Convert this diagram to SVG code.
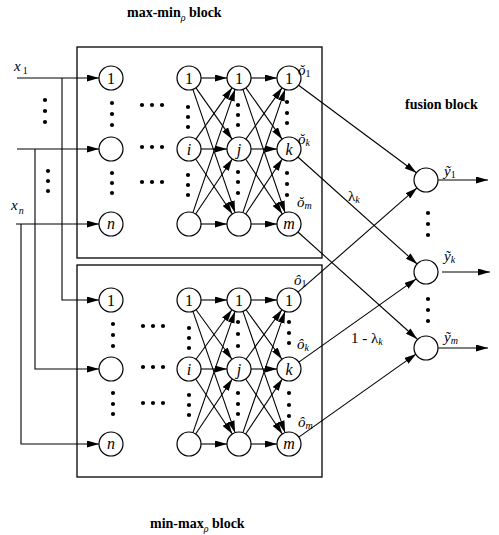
<svg xmlns="http://www.w3.org/2000/svg" width="499" height="535" viewBox="0 0 499 535">
<defs>
<marker id="ah" markerUnits="userSpaceOnUse" markerWidth="12" markerHeight="7" refX="12" refY="3.5" orient="auto">
<path d="M0,0 L12,3.5 L0,7 z" fill="#000"/>
</marker>
<style>
.box{fill:none;stroke:#000;stroke-width:1.3}
.nd circle{fill:#fff;stroke:#000;stroke-width:1.2}
.nd text{font-family:"Liberation Serif",serif;font-size:16px;text-anchor:middle}
.it{font-style:italic}
.cn line,.cn path{stroke:#000;stroke-width:1.1;fill:none;marker-end:url(#ah)}
.dot{fill:#000}
.t{font-family:"Liberation Serif",serif;font-size:14px;font-weight:bold}
.s{font-family:"Liberation Serif",serif;font-size:15px;font-style:italic}
.r{font-family:"Liberation Serif",serif;font-size:15px}
.sub{font-size:10px}
.up{font-style:normal}
.ital{font-style:italic}
.nw{font-weight:normal;font-style:italic}
</style>
</defs>
<rect width="499" height="535" fill="#fff"/>

<!-- titles -->
<text class="t" x="127" y="17">max-min<tspan class="sub nw" dy="4">ρ</tspan><tspan dy="-4"> block</tspan></text>
<text class="t" x="150" y="528">min-max<tspan class="sub nw" dy="4">ρ</tspan><tspan dy="-4"> block</tspan></text>
<text class="t" x="405" y="109">fusion block</text>

<!-- boxes -->
<rect class="box" x="77" y="47" width="245" height="211"/>
<rect class="box" x="77" y="265" width="245" height="212"/>

<!-- input labels -->
<text class="s" x="14" y="71">x<tspan class="sub up" dx="2" dy="3">1</tspan></text>
<text class="s" x="11" y="210">x<tspan class="sub" dx="1" dy="4">n</tspan></text>

<!-- connectors -->
<g id="connectors" class="cn">
<line x1="17" y1="78" x2="99" y2="78"/>
<path d="M62,78 V300 H99"/>
<line x1="17" y1="149" x2="99" y2="149"/>
<path d="M35,149 V369 H99"/>
<line x1="16" y1="224" x2="99" y2="224"/>
<path d="M21,224 V444 H99"/>
<line x1="201" y1="78" x2="227" y2="78"/>
<line x1="195.91" y1="87.81" x2="232.09" y2="139.19"/>
<line x1="192.89" y1="89.35" x2="235.11" y2="212.65"/>
<line x1="195.91" y1="139.19" x2="232.09" y2="87.81"/>
<line x1="201" y1="149" x2="227" y2="149"/>
<line x1="195.66" y1="158.98" x2="232.34" y2="214.02"/>
<line x1="192.89" y1="212.65" x2="235.11" y2="89.35"/>
<line x1="195.66" y1="214.02" x2="232.34" y2="158.98"/>
<line x1="201" y1="224" x2="227" y2="224"/>
<line x1="251" y1="78" x2="277" y2="78"/>
<line x1="245.91" y1="87.81" x2="282.09" y2="139.19"/>
<line x1="242.89" y1="89.35" x2="285.11" y2="212.65"/>
<line x1="245.91" y1="139.19" x2="282.09" y2="87.81"/>
<line x1="251" y1="149" x2="277" y2="149"/>
<line x1="245.66" y1="158.98" x2="282.34" y2="214.02"/>
<line x1="242.89" y1="212.65" x2="285.11" y2="89.35"/>
<line x1="245.66" y1="214.02" x2="282.34" y2="158.98"/>
<line x1="251" y1="224" x2="277" y2="224"/>
<line x1="201" y1="300" x2="227" y2="300"/>
<line x1="196.04" y1="309.72" x2="231.96" y2="359.28"/>
<line x1="192.94" y1="311.34" x2="235.06" y2="432.66"/>
<line x1="196.04" y1="359.28" x2="231.96" y2="309.72"/>
<line x1="201" y1="369" x2="227" y2="369"/>
<line x1="195.66" y1="378.98" x2="232.34" y2="434.02"/>
<line x1="192.94" y1="432.66" x2="235.06" y2="311.34"/>
<line x1="195.66" y1="434.02" x2="232.34" y2="378.98"/>
<line x1="201" y1="444" x2="227" y2="444"/>
<line x1="251" y1="300" x2="277" y2="300"/>
<line x1="246.04" y1="309.72" x2="281.96" y2="359.28"/>
<line x1="242.94" y1="311.34" x2="285.06" y2="432.66"/>
<line x1="246.04" y1="359.28" x2="281.96" y2="309.72"/>
<line x1="251" y1="369" x2="277" y2="369"/>
<line x1="245.66" y1="378.98" x2="282.34" y2="434.02"/>
<line x1="242.94" y1="432.66" x2="285.06" y2="311.34"/>
<line x1="245.66" y1="434.02" x2="282.34" y2="378.98"/>
<line x1="251" y1="444" x2="277" y2="444"/>
<line x1="298.6" y1="85.2" x2="416.4" y2="172.8"/>
<line x1="297.9" y1="157.0" x2="417.1" y2="264.0"/>
<line x1="297.9" y1="232.0" x2="417.1" y2="339.0"/>
<line x1="298.0" y1="292.1" x2="417.0" y2="187.9"/>
<line x1="298.8" y1="362.1" x2="416.2" y2="278.9"/>
<line x1="298.8" y1="437.1" x2="416.2" y2="353.9"/>
<line x1="438" y1="180" x2="488" y2="180"/>
<line x1="442" y1="272" x2="490" y2="272"/>
<line x1="438" y1="348" x2="488" y2="348"/>
</g>

<!-- dots -->
<g class="dot">
<circle cx="45" cy="100" r="2.1"/><circle cx="45" cy="111" r="2.1"/><circle cx="45" cy="122" r="2.1"/>
<circle cx="48" cy="171" r="2.1"/><circle cx="48" cy="181" r="2.1"/><circle cx="48" cy="191" r="2.1"/>
<circle cx="112" cy="103" r="2.1"/><circle cx="112" cy="114" r="2.1"/><circle cx="112" cy="125" r="2.1"/>
<circle cx="112" cy="173" r="2.1"/><circle cx="112" cy="183" r="2.1"/><circle cx="112" cy="193" r="2.1"/>
<circle cx="142" cy="105" r="2.1"/><circle cx="152" cy="105" r="2.1"/><circle cx="162" cy="105" r="2.1"/>
<circle cx="142" cy="147" r="2.1"/><circle cx="152" cy="147" r="2.1"/><circle cx="162" cy="147" r="2.1"/>
<circle cx="142" cy="182" r="2.1"/><circle cx="152" cy="182" r="2.1"/><circle cx="162" cy="182" r="2.1"/>
<circle cx="188" cy="107" r="2.1"/><circle cx="188" cy="117" r="2.1"/><circle cx="188" cy="127" r="2.1"/>
<circle cx="188" cy="175" r="2.1"/><circle cx="188" cy="185" r="2.1"/><circle cx="188" cy="195" r="2.1"/>
<circle cx="238" cy="105" r="2.1"/><circle cx="238" cy="115" r="2.1"/><circle cx="238" cy="125" r="2.1"/>
<circle cx="238" cy="172" r="2.1"/><circle cx="238" cy="182" r="2.1"/><circle cx="238" cy="193" r="2.1"/>
<circle cx="287" cy="102" r="2.1"/><circle cx="287" cy="113" r="2.1"/><circle cx="287" cy="123" r="2.1"/>
<circle cx="287" cy="173" r="2.1"/><circle cx="287" cy="184" r="2.1"/><circle cx="287" cy="195" r="2.1"/>
<circle cx="113" cy="324" r="2.1"/><circle cx="113" cy="335" r="2.1"/><circle cx="113" cy="346" r="2.1"/>
<circle cx="113" cy="393" r="2.1"/><circle cx="113" cy="404" r="2.1"/><circle cx="113" cy="414" r="2.1"/>
<circle cx="143" cy="326" r="2.1"/><circle cx="153" cy="326" r="2.1"/><circle cx="163" cy="326" r="2.1"/>
<circle cx="143" cy="367" r="2.1"/><circle cx="153" cy="367" r="2.1"/><circle cx="163" cy="367" r="2.1"/>
<circle cx="143" cy="403" r="2.1"/><circle cx="153" cy="403" r="2.1"/><circle cx="163" cy="403" r="2.1"/>
<circle cx="189" cy="328" r="2.1"/><circle cx="189" cy="338" r="2.1"/><circle cx="189" cy="348" r="2.1"/>
<circle cx="189" cy="395" r="2.1"/><circle cx="189" cy="405" r="2.1"/><circle cx="189" cy="415" r="2.1"/>
<circle cx="238" cy="322" r="2.1"/><circle cx="238" cy="334" r="2.1"/><circle cx="238" cy="346" r="2.1"/>
<circle cx="238" cy="393" r="2.1"/><circle cx="238" cy="404" r="2.1"/><circle cx="238" cy="414" r="2.1"/>
<circle cx="289" cy="322" r="2.1"/><circle cx="289" cy="333" r="2.1"/><circle cx="289" cy="343" r="2.1"/>
<circle cx="289" cy="393" r="2.1"/><circle cx="289" cy="405" r="2.1"/><circle cx="289" cy="416" r="2.1"/>
<circle cx="428" cy="213" r="2.1"/><circle cx="428" cy="224" r="2.1"/><circle cx="428" cy="235" r="2.1"/>
<circle cx="428" cy="299" r="2.1"/><circle cx="428" cy="310" r="2.1"/><circle cx="428" cy="321" r="2.1"/>
</g>

<!-- top box nodes -->
<g id="t-in-1" class="nd"><circle cx="111" cy="78" r="12"/><text x="111" y="84">1</text></g>
<g id="t-in-i" class="nd"><circle cx="111" cy="149" r="12"/></g>
<g id="t-in-n" class="nd"><circle cx="111" cy="224" r="12"/><text class="it" x="111" y="229">n</text></g>
<g id="t-h1-1" class="nd"><circle cx="189" cy="78" r="12"/><text x="189" y="84">1</text></g>
<g id="t-h1-i" class="nd"><circle cx="189" cy="149" r="12"/><text class="it" x="189" y="155">i</text></g>
<g id="t-h1-b" class="nd"><circle cx="189" cy="224" r="12"/></g>
<g id="t-h2-1" class="nd"><circle cx="239" cy="78" r="12"/><text x="239" y="84">1</text></g>
<g id="t-h2-j" class="nd"><circle cx="239" cy="149" r="12"/><text class="it" x="239" y="155">j</text></g>
<g id="t-h2-b" class="nd"><circle cx="239" cy="224" r="12"/></g>
<g id="t-out-1" class="nd"><circle cx="289" cy="78" r="12"/><text x="289" y="84">1</text></g>
<g id="t-out-k" class="nd"><circle cx="289" cy="149" r="12"/><text class="it" x="289" y="155">k</text></g>
<g id="t-out-m" class="nd"><circle cx="289" cy="224" r="12"/><text class="it" x="289" y="229">m</text></g>

<!-- bottom box nodes -->
<g id="b-in-1" class="nd"><circle cx="111" cy="300" r="12"/><text x="111" y="306">1</text></g>
<g id="b-in-i" class="nd"><circle cx="111" cy="369" r="12"/></g>
<g id="b-in-n" class="nd"><circle cx="111" cy="444" r="12"/><text class="it" x="111" y="449">n</text></g>
<g id="b-h1-1" class="nd"><circle cx="189" cy="300" r="12"/><text x="189" y="306">1</text></g>
<g id="b-h1-i" class="nd"><circle cx="189" cy="369" r="12"/><text class="it" x="189" y="375">i</text></g>
<g id="b-h1-b" class="nd"><circle cx="189" cy="444" r="12"/></g>
<g id="b-h2-1" class="nd"><circle cx="239" cy="300" r="12"/><text x="239" y="306">1</text></g>
<g id="b-h2-j" class="nd"><circle cx="239" cy="369" r="12"/><text class="it" x="239" y="375">j</text></g>
<g id="b-h2-b" class="nd"><circle cx="239" cy="444" r="12"/></g>
<g id="b-out-1" class="nd"><circle cx="289" cy="300" r="12"/><text x="289" y="306">1</text></g>
<g id="b-out-k" class="nd"><circle cx="289" cy="369" r="12"/><text class="it" x="289" y="375">k</text></g>
<g id="b-out-m" class="nd"><circle cx="289" cy="444" r="12"/><text class="it" x="289" y="449">m</text></g>

<!-- fusion nodes -->
<g id="f-1" class="nd"><circle cx="426" cy="180" r="12"/></g>
<g id="f-k" class="nd"><circle cx="426" cy="272" r="12"/></g>
<g id="f-m" class="nd"><circle cx="426" cy="348" r="12"/></g>

<!-- output labels -->
<text class="s" x="298" y="75">ǒ<tspan class="sub up" dy="2">1</tspan></text>
<text class="s" x="298" y="144">ǒ<tspan class="sub" dy="2">k</tspan></text>
<text class="s" x="297" y="207">ǒ<tspan class="sub" dy="2">m</tspan></text>
<text class="s" x="294" y="285">ô<tspan class="sub up" dy="2">1</tspan></text>
<text class="s" x="297" y="349">ô<tspan class="sub" dy="2">k</tspan></text>
<text class="s" x="298" y="427">ô<tspan class="sub" dy="2">m</tspan></text>

<!-- weights -->
<text class="r" x="348" y="201">λ<tspan class="sub ital" dy="2">k</tspan></text>
<text class="r" x="351" y="343">1 - λ<tspan class="sub ital" dy="2">k</tspan></text>

<!-- fusion output labels -->
<text class="s" x="444" y="176">ỹ<tspan class="sub up" dy="2">1</tspan></text>
<text class="s" x="444" y="261">ỹ<tspan class="sub" dy="2">k</tspan></text>
<text class="s" x="444" y="342">ỹ<tspan class="sub" dy="2">m</tspan></text>
</svg>
